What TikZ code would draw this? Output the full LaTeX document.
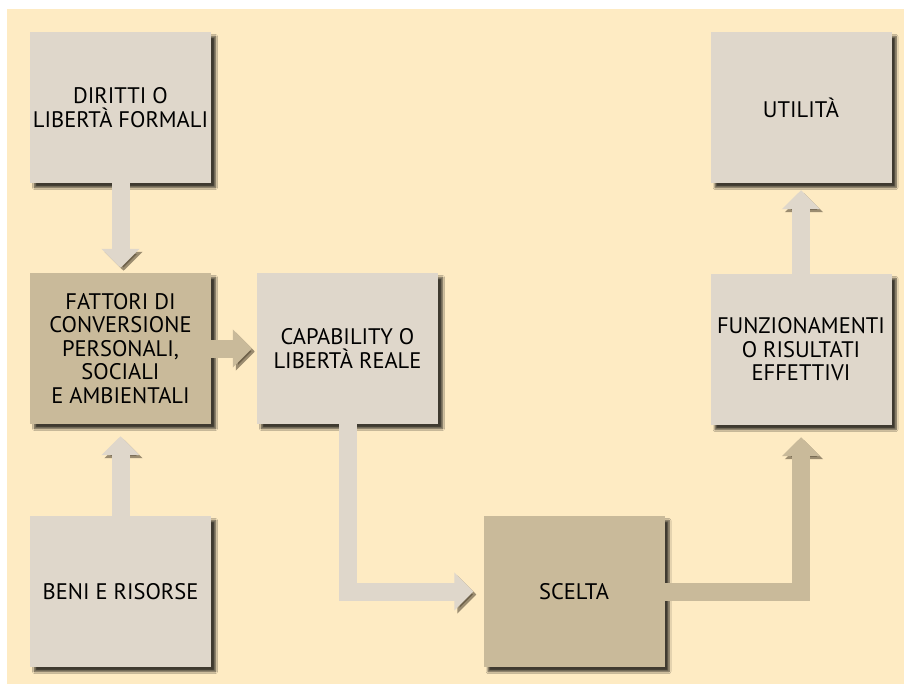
\documentclass[tikz,border=0pt]{standalone}
\usepackage{fontspec}
\setmainfont{PT Sans}
\usetikzlibrary{arrows.meta,shadows.blur}

\definecolor{sfondo}{HTML}{FEEBC3}
\definecolor{chiaro}{HTML}{DFD7CB}
\definecolor{scuro}{HTML}{C9BA9A}
\definecolor{ombra}{HTML}{4A3F2C}

\tikzset{
  casella/.style={fill=chiaro, minimum width=181pt, minimum height=151pt, align=center,
    font=\fontsize{22.5}{23.5}\selectfont, inner sep=2pt,
    blur shadow={shadow xshift=4.5pt, shadow yshift=-4.5pt, shadow blur steps=6, shadow opacity=75}},
  casellascura/.style={casella, fill=scuro},
  freccia/.style={line width=18pt, line join=miter, -{Triangle[width=37pt,length=19pt]},
    preaction={draw=ombra, opacity=.55, shorten <=5pt, transform canvas={shift={(3pt,-3pt)}}}}
}

\begin{document}
\begin{tikzpicture}[x=1pt,y=-1pt]
\useasboundingbox (0,0) rectangle (904,684);
\fill[sfondo] (7,9) rectangle (904,684);

% caselle
\node[casella] (diritti) at (120.5,107.5) {DIRITTI O\\LIBERTÀ FORMALI};
\node[casellascura] (fattori) at (120.5,348.5) {FATTORI DI\\CONVERSIONE\\PERSONALI,\\SOCIALI\\E AMBIENTALI};
\node[casella] (beni) at (120.5,591.5) {BENI E RISORSE};
\node[casella] (capability) at (347.5,348.5) {CAPABILITY O\\LIBERTÀ REALE};
\node[casellascura] (scelta) at (574,591.5) {SCELTA};
\node[casella] (funzionamenti) at (801,349.5) {FUNZIONAMENTI\\O RISULTATI\\EFFETTIVI};
\node[casella] (utilita) at (801,107.5) {UTILITÀ};

% frecce
\draw[freccia,chiaro,shorten >=5pt] (diritti) -- (fattori);
\draw[freccia,chiaro,shorten >=12pt] (beni) -- (fattori);
\draw[freccia,scuro,shorten >=5pt] (fattori) -- (capability);
\draw[freccia,chiaro,shorten >=10pt] (capability.south) |- (scelta.west);
\draw[freccia,scuro,shorten >=12pt] (scelta.east) -| (funzionamenti.south);
\draw[freccia,chiaro,shorten >=7pt] (funzionamenti) -- (utilita);

\end{tikzpicture}
\end{document}
